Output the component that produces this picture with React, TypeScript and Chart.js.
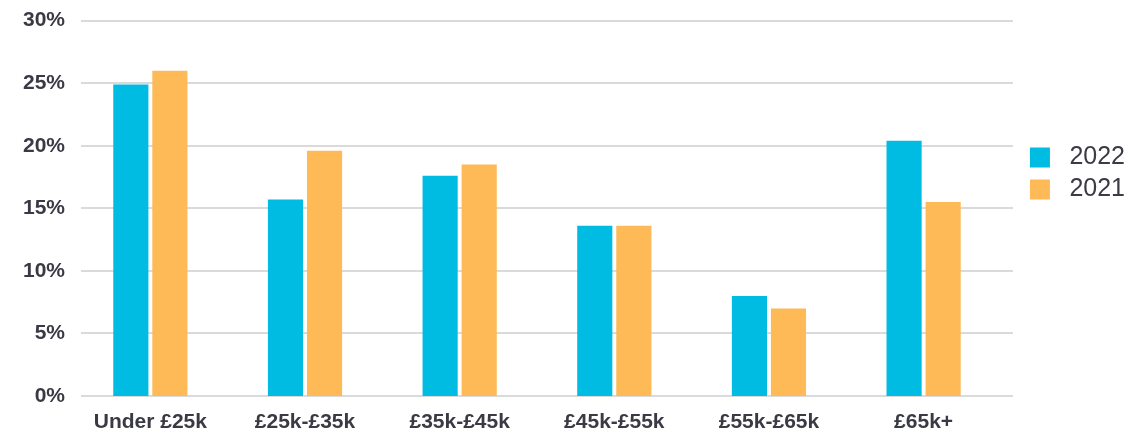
import React, { useEffect, useRef } from "react";
import { Chart, registerables } from "chart.js";

Chart.register(...registerables);

const categories = ["Under £25k", "£25k-£35k", "£35k-£45k", "£45k-£55k", "£55k-£65k", "£65k+"];
const values2022 = [24.9, 15.7, 17.6, 13.6, 8.0, 20.4];
const values2021 = [26.0, 19.6, 18.5, 13.6, 7.0, 15.5];
const yTicks = [0, 5, 10, 15, 20, 25, 30];

const FONT = "Liberation Sans, Arial, sans-serif";

const gridPlugin = {
  id: "customGrid",
  beforeDatasetsDraw(chart: any) {
    const { ctx, chartArea, scales } = chart;
    const y = scales.y;
    ctx.save();
    ctx.strokeStyle = "#dadada";
    ctx.lineWidth = 2;
    yTicks.forEach((t) => {
      const py = Math.round(y.getPixelForValue(t));
      ctx.beginPath();
      ctx.moveTo(chartArea.left + 8, py);
      ctx.lineTo(chartArea.right + 12, py);
      ctx.stroke();
    });
    ctx.restore();
  },
};

export default function App() {
  const ref = useRef<HTMLCanvasElement>(null);
  useEffect(() => {
    document.body.style.margin = "0";
    const chart = new Chart(ref.current!, {
      type: "bar",
      data: {
        labels: categories,
        datasets: [
          { label: "2022", data: values2022, backgroundColor: "#00BCE3", barPercentage: 0.9, categoryPercentage: 0.505 },
          { label: "2021", data: values2021, backgroundColor: "#FDBA57", barPercentage: 0.9, categoryPercentage: 0.505 },
        ],
      },
      options: {
        animation: false,
        responsive: false,
        maintainAspectRatio: false,
        layout: { padding: { top: 14, right: 0, left: 15, bottom: 0 } },
        plugins: {
          tooltip: { enabled: false },
          legend: {
            position: "right",
            align: "start",
            title: { display: true, text: " ", padding: { top: 112, bottom: 0 }, font: { size: 10 } },
            labels: {
              boxWidth: 20,
              boxHeight: 20,
              padding: 7,
              color: "#3b3b45",
              font: { family: FONT, size: 25 },
              generateLabels: (c: any) =>
                Chart.defaults.plugins.legend.labels.generateLabels(c).map((l: any) => ({ ...l, text: " " + l.text })),
            },
          },
        },
        scales: {
          x: {
            grid: { display: false, drawTicks: false },
            border: { display: false },
            afterFit: (s: any) => {
              s.height = 38;
            },
            ticks: {
              color: "#3a3a45",
              padding: 14,
              font: { family: FONT, size: 21, weight: "bold" },
            },
          },
          y: {
            min: 0,
            max: 30,
            grid: { display: false, drawTicks: false },
            border: { display: false },
            ticks: {
              stepSize: 5,
              color: "#3a3a45",
              padding: 8,
              callback: (v: any) => v + "%",
              font: { family: FONT, size: 21, weight: "bold" },
            },
          },
          yr: {
            position: "right",
            display: true,
            min: 0,
            max: 30,
            grid: { display: false, drawTicks: false },
            border: { display: false },
            ticks: { display: false },
            afterFit: (s: any) => {
              s.width = 22;
            },
          },
        },
      },
      plugins: [gridPlugin],
    } as any);
    return () => chart.destroy();
  }, []);
  return (
    <div style={{ position: "absolute", left: 0, top: 0, width: 1135, height: 434 }}>
      <canvas ref={ref} width={1135} height={434} />
    </div>
  );
}
